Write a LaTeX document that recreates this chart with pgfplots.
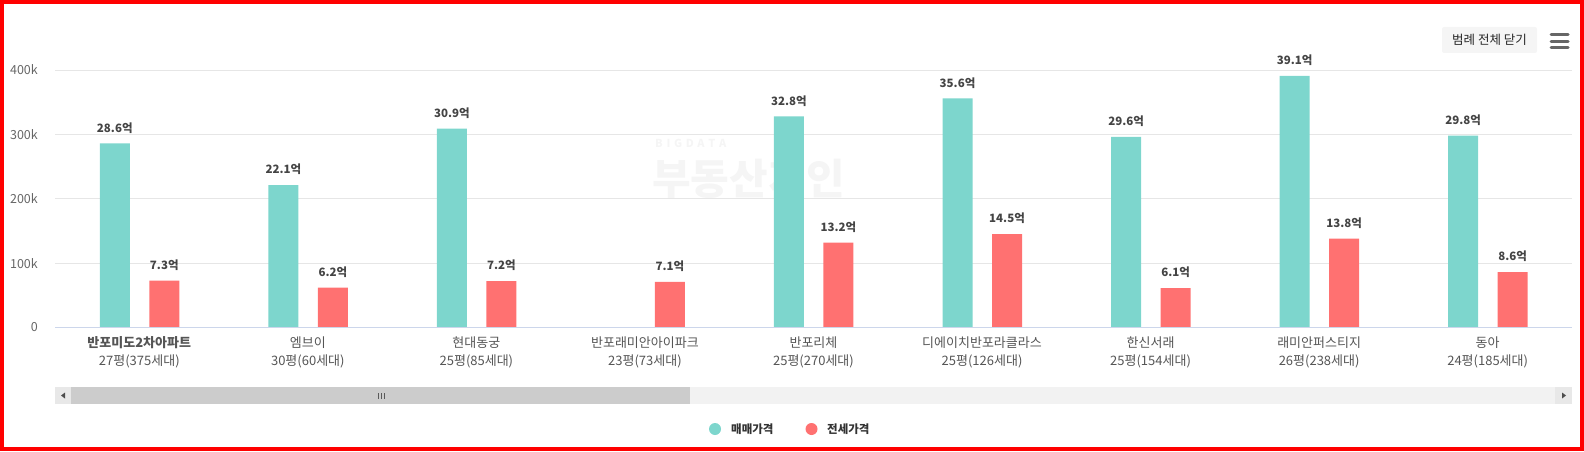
\documentclass[border=0pt]{standalone}
\usepackage{fontspec}
\setmainfont{Noto Sans CJK KR}
\usepackage{pgfplots}
\usepackage{pgfplotstable}
\pgfplotsset{compat=1.18}
\definecolor{tealc}{HTML}{7DD6CD}
\definecolor{redc}{HTML}{FF7171}
\definecolor{gridc}{HTML}{E6E6E6}
\definecolor{axisc}{HTML}{CCD6EB}
\definecolor{tickc}{HTML}{666666}
\definecolor{labc}{HTML}{555555}
\definecolor{datac}{HTML}{444444}
\pgfplotstableread{
x buy rent
0 286000 73000
1 221000 62000
2 309000 72000
3 nan 71000
4 328000 132000
5 356000 145000
6 296000 61000
7 391000 138000
8 298000 86000
}\datatable
\begin{document}
\begin{tikzpicture}
\useasboundingbox (0pt,0pt) rectangle (1584pt,451pt);
% faint watermark
\node[anchor=west, text=black!4, font=\fontsize{11}{11}\selectfont\bfseries, inner sep=0pt] at (655pt,308pt) {B\,\,I\,\,G\,\,D\,\,A\,\,T\,\,A};
\node[anchor=west, text=black!4, font=\fontsize{42}{42}\selectfont\bfseries, inner sep=0pt] at (652pt,272pt) {부동산지인};
\begin{axis}[
  at={(55pt,123.5pt)}, anchor=south west,
  scale only axis, width=1517pt, height=257.5pt,
  xmin=-0.5, xmax=8.5, ymin=0, ymax=400000,
  clip=false,
  separate axis lines,
  axis line style={draw=none},
  scaled y ticks=false,
  /pgf/number format/assume math mode=true,
  ytick={0,100000,200000,300000,400000},
  yticklabels={0,100k,200k,300k,400k},
  ymajorgrids, grid style={color=gridc, line width=1pt},
  tick style={draw=none}, major tick length=0pt,
  yticklabel style={font=\fontsize{12.5}{14}\selectfont, text=tickc, inner sep=0pt, xshift=-17pt},
  xtick={0,...,8},
  xticklabels={
    {\textbf{반포미도2차아파트}\\27평(375세대)},
    {엠브이\\30평(60세대)},
    {현대동궁\\25평(85세대)},
    {반포래미안아이파크\\23평(73세대)},
    {반포리체\\25평(270세대)},
    {디에이치반포라클라스\\25평(126세대)},
    {한신서래\\25평(154세대)},
    {래미안퍼스티지\\26평(238세대)},
    {동아\\24평(185세대)}},
  xticklabel style={font=\fontsize{13}{17.7}\selectfont, text=labc, align=center, inner sep=0pt, yshift=-9pt},
  nodes near coords={\pgfmathprintnumber[fixed,precision=1,fixed zerofill,assume math mode=true]{\pgfplotspointmeta}억},
  every node near coord/.append style={font=\fontsize{11.5}{12}\selectfont\bfseries, text=datac, inner sep=0pt, anchor=south, yshift=10pt},
  unbounded coords=discard,
]
\addplot[ybar, bar width=30pt, bar shift=-24.5pt, fill=tealc, draw=none,
  every node near coord/.append style={xshift=-24.5pt},
  point meta={\thisrow{buy}/10000}] table[x=x, y=buy] {\datatable};
\addplot[ybar, bar width=30pt, bar shift=25pt, fill=redc, draw=none,
  every node near coord/.append style={xshift=25pt},
  point meta={\thisrow{rent}/10000}] table[x=x, y=rent] {\datatable};
\draw[axisc, line width=1pt] (rel axis cs:0,0) -- (rel axis cs:1,0);
\end{axis}
% legend
\fill[tealc] (715pt,22pt) circle (6pt);
\node[anchor=west, inner sep=0pt, font=\fontsize{11.5}{12}\selectfont\bfseries, text=black!80] at (731pt,22pt) {매매가격};
\fill[redc] (811.5pt,22pt) circle (6pt);
\node[anchor=west, inner sep=0pt, font=\fontsize{11.5}{12}\selectfont\bfseries, text=black!80] at (827pt,22pt) {전세가격};
% scrollbar
\fill[black!5] (55pt,47pt) rectangle (1572pt,64pt);
\fill[black!9] (55pt,47pt) rectangle (71pt,64pt);
\fill[black!9] (1555pt,47pt) rectangle (1572pt,64pt);
\fill[black!20] (71pt,47pt) rectangle (690pt,64pt);
\fill[black!70] (61pt,55.5pt) -- (65pt,58.5pt) -- (65pt,52.5pt) -- cycle;
\fill[black!70] (1566pt,55.5pt) -- (1562pt,58.5pt) -- (1562pt,52.5pt) -- cycle;
\foreach \g in {378,381,384} \draw[black!65, line width=1pt] (\g pt,52.5pt) -- (\g pt,58.5pt);
% button
\node[fill=black!4, rounded corners=2pt, minimum width=95pt, minimum height=26pt, inner sep=0pt, font=\fontsize{12.5}{13}\selectfont, text=black!85] at (1489.5pt,411pt) {범례 전체 닫기};
\foreach \h in {416,409.5,403.5} \draw[black!60, line width=3pt, line cap=round] (1551pt,\h pt) -- (1568pt,\h pt);
% border
\draw[red, line width=4pt] (2pt,2pt) rectangle (1582pt,449pt);
\end{tikzpicture}
\end{document}
